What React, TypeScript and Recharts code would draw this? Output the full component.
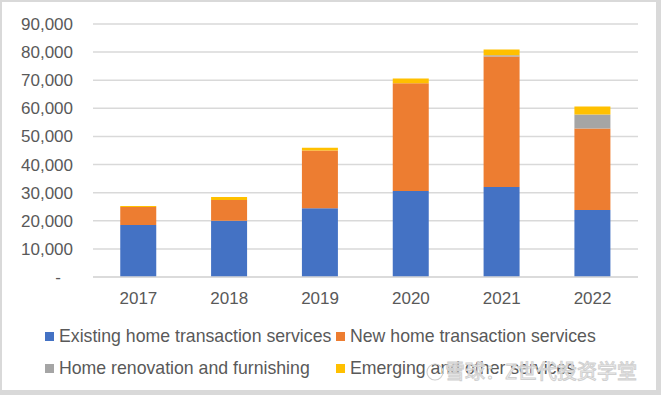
import React from 'react';
import { BarChart, Bar, XAxis, YAxis, CartesianGrid } from 'recharts';

const years = ['2017', '2018', '2019', '2020', '2021', '2022'];
const existingHome = [18500, 20000, 24500, 30600, 32000, 23800];
const newHome = [6400, 7400, 20500, 38300, 46400, 29000];
const renovation = [0, 0, 0, 0, 500, 5000];
const emerging = [350, 1100, 1000, 1700, 2000, 2850];
const yTicks = [0, 10000, 20000, 30000, 40000, 50000, 60000, 70000, 80000, 90000];

const series = [
  { key: 'existing', name: 'Existing home transaction services', color: '#4472C4', values: existingHome },
  { key: 'newHome', name: 'New home transaction services', color: '#ED7D31', values: newHome },
  { key: 'renovation', name: 'Home renovation and furnishing', color: '#A5A5A5', values: renovation },
  { key: 'emerging', name: 'Emerging and other services', color: '#FFC000', values: emerging },
];

const data = years.map((year, i) => {
  const row: any = { year };
  series.forEach((s) => { row[s.key] = s.values[i]; });
  return row;
});

const FONT = '"Liberation Sans", Arial, sans-serif';
const TEXT = '#595959';
const GRID = '#d9d9d9';

const YTick = ({ x, y, payload }: any) => (
  <text
    x={payload.value === 0 ? x - 12 : x}
    y={y}
    dy="0.355em"
    textAnchor="end"
    fill={TEXT}
    fontSize={17}
    fontFamily={FONT}
  >
    {payload.value === 0 ? '-' : payload.value.toLocaleString('en-US')}
  </text>
);

export default function App() {
  return (
    <div style={{ position: 'absolute', left: 0, top: 0, width: 661, height: 395, background: '#fff' }}>
      <BarChart
        width={661}
        height={395}
        data={data}
        margin={{ top: 24, right: 23, left: 0, bottom: 88 }}
        barCategoryGap="30%"
      >
        <CartesianGrid vertical={false} stroke={GRID} strokeWidth={1.5} />
        <XAxis
          dataKey="year"
          height={30}
          tickLine={false}
          tickMargin={9}
          axisLine={{ stroke: GRID, strokeWidth: 1.5 }}
          tick={{ fill: TEXT, fontSize: 17, fontFamily: FONT }}
        />
        <YAxis
          width={93}
          domain={[0, 90000]}
          ticks={yTicks}
          axisLine={false}
          tickLine={false}
          tickMargin={14}
          tick={<YTick />}
        />
        {series.map((s) => (
          <Bar key={s.key} dataKey={s.key} name={s.name} stackId="a" fill={s.color} isAnimationActive={false} />
        ))}
      </BarChart>

      {/* legend, two columns like the Excel original */}
      {series.map((s, i) => (
        <div
          key={s.key}
          style={{
            position: 'absolute',
            left: i % 2 === 0 ? 45 : 336,
            top: i < 2 ? 326 : 358,
            height: 21,
            display: 'flex',
            alignItems: 'center',
            fontFamily: FONT,
            fontSize: 17.7,
            color: TEXT,
            whiteSpace: 'nowrap',
          }}
        >
          <span style={{ width: 9, height: 9, background: s.color, marginRight: 5, display: 'inline-block' }} />
          {s.name}
        </div>
      ))}

      {/* watermark */}
      <svg width={661} height={395} style={{ position: 'absolute', left: 0, top: 0, pointerEvents: 'none' }}>
        <circle cx={435} cy={372} r={8} fill="none" stroke="#d0d0d0" strokeWidth={1.2} />
        <text
          x={445}
          y={379}
          fontSize={20}
          fontFamily='"Noto Sans CJK SC", sans-serif'
          fill="#ffffff"
          fillOpacity={0.7}
          stroke="#d0d0d0"
          strokeWidth={1}
        >
          雪球：Z世代投资学堂
        </text>
      </svg>

      <div
        style={{
          position: 'absolute',
          left: 0,
          top: 0,
          width: 661,
          height: 395,
          boxSizing: 'border-box',
          borderStyle: 'solid',
          borderColor: GRID,
          borderWidth: '2px 5px 5px 2px',
          pointerEvents: 'none',
        }}
      />
    </div>
  );
}
